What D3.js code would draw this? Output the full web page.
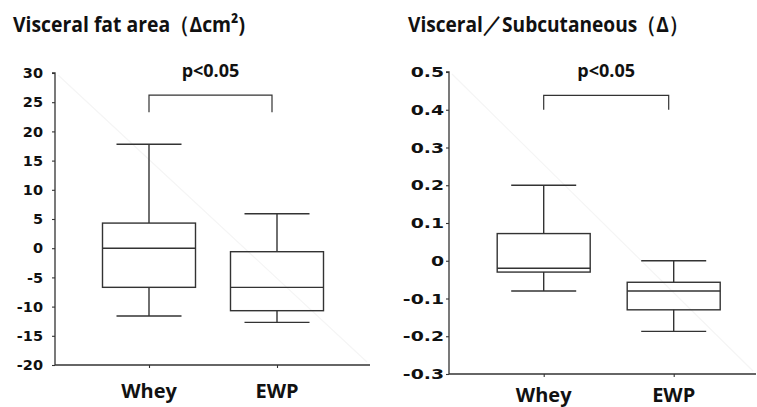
<!DOCTYPE html>
<html>
<head>
<meta charset="utf-8">
<script src="https://cdn.jsdelivr.net/npm/d3@7"></script>
<style>
  html, body { margin: 0; padding: 0; background: #fff; }
  svg { display: block; }
  text { font-family: "Open Sans", "Noto Sans", sans-serif; font-weight: 700; fill: #111; }
</style>
</head>
<body>
<svg id="chart" width="757" height="407"></svg>
<script>
// ---- data ----
const categories = ["Whey", "EWP"];

// Panel 1: Visceral fat area (Δcm²)
const fatTitle = "Visceral fat area（Δcm²)";
const fatTicks = [30, 25, 20, 15, 10, 5, 0, -5, -10, -15, -20];
const fatMin = [-11.6, -12.7];
const fatQ1 = [-6.7, -10.7];
const fatMedian = [0, -6.7];
const fatQ3 = [4.3, -0.6];
const fatMax = [17.8, 5.9];
const fatSig = ["p<0.05", 26.2, 23.3];   // label, bracket top, bracket leg end

// Panel 2: Visceral / Subcutaneous (Δ)
const ratioTitle = "Visceral／Subcutaneous（Δ）";
const ratioTicks = [0.5, 0.4, 0.3, 0.2, 0.1, 0, -0.1, -0.2, -0.3];
const ratioMin = [-0.08, -0.187];
const ratioQ1 = [-0.03, -0.13];
const ratioMedian = [-0.02, -0.08];
const ratioQ3 = [0.072, -0.057];
const ratioMax = [0.2, 0.0];
const ratioSig = ["p<0.05", 0.438, 0.40];

// ---- drawing ----
const svg = d3.select("#chart");
const stroke = "#333";
const hy = s => s.replace("\u2212", "-");

function panel(cfg) {
  const g = svg.append("g");
  const y = d3.scaleLinear().domain(cfg.domain).range([cfg.bottom, cfg.top]);
  const x = d3.scalePoint().domain(categories).range(cfg.centers);

  // faint diagonal artefact
  g.append("line")
    .attr("x1", cfg.left + 3).attr("y1", cfg.top + 2)
    .attr("x2", cfg.right - 3).attr("y2", cfg.bottom - 3)
    .attr("stroke", "#f5f5f5").attr("stroke-width", 1.2);

  // title
  g.append("text").attr("x", cfg.titleX).attr("y", 32)
    .attr("font-size", 22)
    .attr("textLength", cfg.titleW).attr("lengthAdjust", "spacingAndGlyphs")
    .text(cfg.title);

  // y axis
  const yAxis = d3.axisLeft(y).tickValues(cfg.ticks).tickSize(3).tickPadding(0)
    .tickFormat(cfg.fmt);
  const ya = g.append("g").attr("transform", `translate(${cfg.left},0)`).call(yAxis);
  ya.select(".domain").attr("stroke", stroke).attr("stroke-width", 1.3)
    .attr("d", `M-3,${cfg.top}H0V${cfg.bottom}`);
  ya.selectAll(".tick line").attr("stroke", stroke).attr("stroke-width", 1.1);
  ya.selectAll(".tick text")
    .attr("x", 0)
    .attr("transform", `translate(${-cfg.tickPad},0) scale(${cfg.tickScale},1)`)
    .attr("fill", "#111")
    .style("font-family", '"DejaVu Sans", sans-serif')
    .style("font-weight", 700)
    .style("font-size", "14.5px");

  // x axis
  const xAxis = d3.axisBottom(x).tickSize(3).tickFormat("");
  const xa = g.append("g").attr("transform", `translate(0,${cfg.bottom})`).call(xAxis);
  xa.select(".domain").attr("stroke", stroke).attr("stroke-width", 1.3)
    .attr("d", `M${cfg.left},0H${cfg.right}`);
  xa.selectAll(".tick line").attr("stroke", stroke).attr("stroke-width", 1.1);

  // category labels
  g.selectAll(".cat").data(categories).join("text")
    .attr("x", d => x(d)).attr("y", cfg.bottom + cfg.catGap)
    .attr("text-anchor", "middle").attr("font-size", 20).text(d => d);

  // boxes
  const bw = 93, cw = 65;
  categories.forEach((c, i) => {
    const cx = x(c);
    const s = { stroke: stroke, "stroke-width": 1.4, fill: "none" };
    const line = (x1, y1, x2, y2) => {
      const l = g.append("line").attr("x1", x1).attr("y1", y1).attr("x2", x2).attr("y2", y2);
      Object.entries(s).forEach(([k, v]) => l.attr(k, v));
    };
    line(cx, y(cfg.max[i]), cx, y(cfg.q3[i]));
    line(cx, y(cfg.q1[i]), cx, y(cfg.min[i]));
    line(cx - cw / 2, y(cfg.max[i]), cx + cw / 2, y(cfg.max[i]));
    line(cx - cw / 2, y(cfg.min[i]), cx + cw / 2, y(cfg.min[i]));
    const r = g.append("rect").attr("x", cx - bw / 2).attr("width", bw)
      .attr("y", y(cfg.q3[i])).attr("height", y(cfg.q1[i]) - y(cfg.q3[i]));
    Object.entries(s).forEach(([k, v]) => r.attr(k, v));
    line(cx - bw / 2, y(cfg.median[i]), cx + bw / 2, y(cfg.median[i]));
  });

  // significance bracket
  const [lab, topV, legV] = cfg.sig;
  const xa0 = x(categories[0]), xa1 = x(categories[1]) - 5;
  g.append("path")
    .attr("d", `M${xa0},${y(legV)}V${y(topV)}H${xa1}V${y(legV)}`)
    .attr("fill", "none").attr("stroke", stroke).attr("stroke-width", 1.2);
  g.append("text").attr("x", (xa0 + xa1) / 2).attr("y", 77)
    .attr("text-anchor", "middle").attr("font-size", 18).text(lab);
}

panel({
  title: fatTitle, titleX: 13, titleW: 232,
  domain: [-20, 30], top: 73, bottom: 365, left: 55, right: 370,
  centers: [149, 277], ticks: fatTicks, fmt: d => hy(d3.format("d")(d)), tickPad: 12, tickScale: 1.0,
  catGap: 33,
  min: fatMin, q1: fatQ1, median: fatMedian, q3: fatQ3, max: fatMax, sig: fatSig
});

panel({
  title: ratioTitle, titleX: 408, titleW: 280,
  domain: [-0.3, 0.5], top: 72, bottom: 374, left: 449, right: 756,
  centers: [543.7, 673.7], ticks: ratioTicks,
  fmt: d => d === 0 ? "0" : hy(d3.format(".1f")(d)), tickPad: 5, tickScale: 1.3,
  catGap: 28,
  min: ratioMin, q1: ratioQ1, median: ratioMedian, q3: ratioQ3, max: ratioMax, sig: ratioSig
});
</script>
</body>
</html>
